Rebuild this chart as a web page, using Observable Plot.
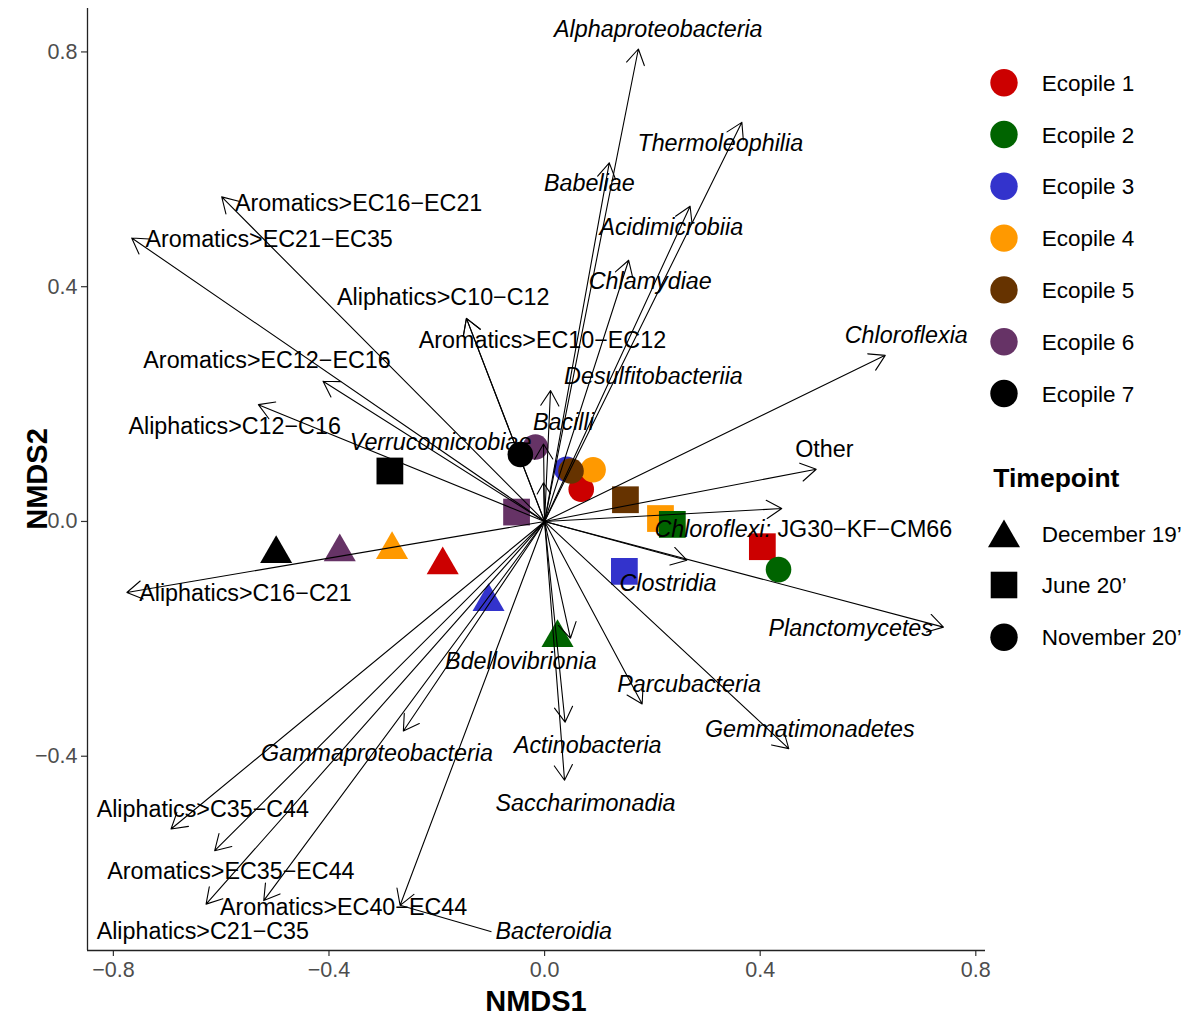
<!DOCTYPE html>
<html>
<head>
<meta charset="utf-8">
<script src="https://cdn.jsdelivr.net/npm/d3@7"></script>
<script src="https://cdn.jsdelivr.net/npm/@observablehq/plot@0.6"></script>
<style>
  body { margin: 0; background: #fff; }
  #wrap { position: relative; width: 1193px; height: 1017px; font-family: "Liberation Sans", Arial, sans-serif; background:#fff; }
  #chart { position: absolute; left: 0; top: 0; }
  #legend { position: absolute; left: 980px; top: 0; }
</style>
</head>
<body>
<div id="wrap">
  <div id="chart"></div>
  <svg id="legend" width="213" height="700"></svg>
</div>
<script>
// ---------------- DATA ----------------
const ecopiles = ["Ecopile 1", "Ecopile 2", "Ecopile 3", "Ecopile 4", "Ecopile 5", "Ecopile 6", "Ecopile 7"];
const ecopileColors = ["#CC0000", "#006400", "#3333CC", "#FF9900", "#663300", "#663366", "#000000"];
const timepoints = ["December 19’", "June 20’", "November 20’"];
const timepointSymbols = ["triangle", "square", "circle"];

// samples (site scores)
const sampleEcopile = [
  "Ecopile 1", "Ecopile 2", "Ecopile 3", "Ecopile 4", "Ecopile 6", "Ecopile 7",
  "Ecopile 1", "Ecopile 3", "Ecopile 4", "Ecopile 2", "Ecopile 5", "Ecopile 6", "Ecopile 7",
  "Ecopile 1", "Ecopile 2", "Ecopile 3", "Ecopile 4", "Ecopile 5", "Ecopile 6", "Ecopile 7"
];
const sampleTimepoint = [
  "December 19’", "December 19’", "December 19’", "December 19’", "December 19’", "December 19’",
  "June 20’", "June 20’", "June 20’", "June 20’", "June 20’", "June 20’", "June 20’",
  "November 20’", "November 20’", "November 20’", "November 20’", "November 20’", "November 20’", "November 20’"
];
const sampleNMDS1 = [
  -0.189, 0.024, -0.104, -0.283, -0.380, -0.498,
  0.404, 0.148, 0.215, 0.237, 0.150, -0.052, -0.287,
  0.068, 0.434, 0.041, 0.090, 0.049, -0.017, -0.045
];
const sampleNMDS2 = [
  -0.074, -0.198, -0.137, -0.048, -0.052, -0.055,
  -0.043, -0.085, 0.005, -0.005, 0.037, 0.016, 0.086,
  0.055, -0.082, 0.089, 0.088, 0.086, 0.127, 0.114
];

// fitted vectors (arrow tips) and their label positions
const vectorNames = [
  "Alphaproteobacteria", "Thermoleophilia", "Babeliae", "Acidimicrobiia", "Chlamydiae",
  "Desulfitobacteriia", "Bacilli", "Verrucomicrobiae", "Chloroflexia", "Other",
  "Chloroflexi: JG30−KF−CM66", "Clostridia", "Planctomycetes", "Bdellovibrionia", "Parcubacteria",
  "Gemmatimonadetes", "Actinobacteria", "Saccharimonadia", "Gammaproteobacteria", "Bacteroidia",
  "Aliphatics>C10−C12", "Aromatics>EC10−EC12", "Aromatics>EC16−EC21", "Aromatics>EC21−EC35", "Aromatics>EC12−EC16",
  "Aliphatics>C12−C16", "Aliphatics>C16−C21", "Aliphatics>C35−C44", "Aromatics>EC35−EC44", "Aliphatics>C21−C35",
  "Aromatics>EC40−EC44"
];
const vectorNMDS1 = [
  0.174, 0.366, 0.120, 0.270, 0.156,
  0.011, -0.002, -0.002, 0.632, 0.504,
  0.440, 0.264, 0.740, 0.048, 0.181,
  0.453, 0.038, 0.037, -0.262, -0.268,
  -0.145, -0.145, -0.599, -0.766, -0.411,
  -0.531, -0.775, -0.693, -0.612, -0.628,
  -0.521
];
const vectorNMDS2 = [
  0.805, 0.680, 0.611, 0.537, 0.445,
  0.223, 0.132, 0.066, 0.283, 0.089,
  0.022, -0.066, -0.180, -0.199, -0.311,
  -0.387, -0.342, -0.441, -0.357, -0.654,
  0.346, 0.346, 0.553, 0.483, 0.239,
  0.199, -0.121, -0.524, -0.561, -0.652,
  -0.646
];
const labelNMDS1 = [
  0.211, 0.326, 0.083, 0.235, 0.196,
  0.202, 0.035, -0.193, 0.671, 0.519,
  0.480, 0.229, 0.568, -0.044, 0.268,
  0.492, 0.080, 0.076, -0.311, 0.017,
  -0.188, -0.004, -0.345, -0.511, -0.515,
  -0.575, -0.555, -0.634, -0.582, -0.634,
  -0.373
];
const labelNMDS2 = [
  0.839, 0.644, 0.576, 0.501, 0.409,
  0.247, 0.169, 0.135, 0.317, 0.123,
  -0.014, -0.106, -0.183, -0.239, -0.278,
  -0.355, -0.381, -0.481, -0.396, -0.699,
  0.381, 0.309, 0.541, 0.481, 0.274,
  0.162, -0.122, -0.490, -0.596, -0.699,
  -0.657
];
// "italic" = taxon, "normal" = hydrocarbon fraction / other, "mixed" = italic phylum + normal clade
const labelStyle = [
  "italic", "italic", "italic", "italic", "italic",
  "italic", "italic", "italic", "italic", "normal",
  "mixed", "italic", "italic", "italic", "italic",
  "italic", "italic", "italic", "italic", "italic",
  "normal", "normal", "normal", "normal", "normal",
  "normal", "normal", "normal", "normal", "normal",
  "normal"
];
const repelledLabels = ["Bacteroidia"]; // label moved away, joined by a segment

const xTicks = [-0.8, -0.4, 0.0, 0.4, 0.8];
const yTicks = [-0.4, 0.0, 0.4, 0.8];

// ---------------- BUILD ----------------
const FONT = '"Liberation Sans", Arial, sans-serif';
const W = 990, H = 1017;
const mL = 87, mR = 5, mT = 8, mB = 67;
const xDomain = [-0.848, 0.818];
const yDomain = [-0.731, 0.874];
const labelSize = 23.3;

const points = sampleEcopile.map((e, i) => ({ecopile: e, timepoint: sampleTimepoint[i], x: sampleNMDS1[i], y: sampleNMDS2[i]}));
const vecs = vectorNames.map((n, i) => ({name: n, x: vectorNMDS1[i], y: vectorNMDS2[i], lx: labelNMDS1[i], ly: labelNMDS2[i], style: labelStyle[i], repel: repelledLabels.includes(n)}));

// measure text width to place repelled labels' segment end
const ctx = document.createElement("canvas").getContext("2d");
ctx.font = `italic ${labelSize}px ${FONT}`;
const pxPerX = (W - mL - mR) / (xDomain[1] - xDomain[0]);
vecs.forEach(v => {
  if (v.repel) {
    const wpx = ctx.measureText(v.name).width;
    v.leftX = v.lx - (wpx / 2) / pxPerX;
    v.segX = v.leftX - 4 / pxPerX;
  }
});

const fmt = d3.format(".1f");
const symR = {"triangle": 11.9, "square": 15.1, "circle": 12.8};

const dotMarks = timepoints.map((t, i) => Plot.dot(points.filter(p => p.timepoint === t), {
  x: "x", y: "y", fill: "ecopile", symbol: timepointSymbols[i], r: symR[timepointSymbols[i]], stroke: "none"
}));

const chart = Plot.plot({
  width: W, height: H,
  marginLeft: mL, marginRight: mR, marginTop: mT, marginBottom: mB,
  style: {fontFamily: FONT, background: "white", overflow: "visible"},
  x: {domain: xDomain},
  y: {domain: yDomain},
  color: {domain: ecopiles, range: ecopileColors},
  marks: [
    Plot.axisX({ticks: xTicks, tickFormat: fmt, tickSize: 6, tickPadding: 5, fontSize: 21.5, label: null}),
    Plot.axisY({ticks: yTicks, tickFormat: fmt, tickSize: 6, tickPadding: 4, fontSize: 21.5, label: null}),
    Plot.ruleY([yDomain[0]], {stroke: "#222", strokeWidth: 1.3}),
    Plot.ruleX([xDomain[0]], {stroke: "#222", strokeWidth: 1.3}),
    ...dotMarks,
    Plot.arrow(vecs, {x1: () => 0, y1: () => 0, x2: "x", y2: "y", stroke: "black", strokeWidth: 1.1, headLength: 24, headAngle: 62}),
    Plot.link(vecs.filter(v => v.repel), {x1: "x", y1: "y", x2: "segX", y2: "ly", stroke: "black", strokeWidth: 1.1}),
    Plot.text(vecs.filter(v => v.style === "italic" && !v.repel), {x: "lx", y: "ly", text: "name", fontSize: labelSize, fontStyle: "italic", fill: "black"}),
    Plot.text(vecs.filter(v => v.style === "italic" && v.repel), {x: "leftX", y: "ly", text: "name", fontSize: labelSize, fontStyle: "italic", fill: "black", textAnchor: "start"}),
    Plot.text(vecs.filter(v => v.style !== "italic"), {x: "lx", y: "ly", text: "name", fontSize: labelSize, fill: "black"})
  ]
});
document.getElementById("chart").appendChild(chart);

const svg = d3.select(chart);
svg.selectAll('[aria-label="x-axis tick label"], [aria-label="y-axis tick label"]').attr("fill", "#4D4D4D");
svg.selectAll('[aria-label="x-axis tick"], [aria-label="y-axis tick"]').attr("stroke", "#333").attr("stroke-width", 1.2);

// mixed-style label
svg.selectAll("text").filter(function () { return this.textContent === "Chloroflexi: JG30−KF−CM66"; }).each(function () {
  const t = d3.select(this);
  t.text(null);
  t.append("tspan").attr("font-style", "italic").text("Chloroflexi:");
  t.append("tspan").text(" JG30−KF−CM66");
});

// axis titles
svg.append("text").attr("x", (mL + W - mR) / 2).attr("y", 1011).attr("text-anchor", "middle")
  .attr("font-weight", "bold").attr("font-size", 29).attr("font-family", FONT).attr("fill", "black").text("NMDS1");
svg.append("text").attr("transform", `translate(47,${(mT + H - mB) / 2}) rotate(-90)`).attr("text-anchor", "middle")
  .attr("font-weight", "bold").attr("font-size", 29).attr("font-family", FONT).attr("fill", "black").text("NMDS2");

// ---------------- LEGEND ----------------
const lg = d3.select("#legend").attr("font-family", FONT);
const legX = 24, txtX = 61.7;
ecopiles.forEach((e, i) => {
  const cy = 82.7 + i * 51.8;
  lg.append("circle").attr("cx", legX).attr("cy", cy).attr("r", 13.7).attr("fill", ecopileColors[i]);
  lg.append("text").attr("x", txtX).attr("y", cy).attr("dy", "0.36em").attr("font-size", 22.5).attr("fill", "black").text(e);
});
lg.append("text").attr("x", 13.3).attr("y", 486.7).attr("font-size", 26.5).attr("font-weight", "bold").attr("fill", "black").text("Timepoint");
const tpY = [538, 585, 637.3];
const legSym = {triangle: d3.symbolTriangle, square: d3.symbolSquare, circle: d3.symbolCircle};
timepoints.forEach((t, i) => {
  const s = timepointSymbols[i];
  const r = {triangle: 11.9, square: 15.0, circle: 13.7}[s];
  lg.append("path").attr("transform", `translate(${legX},${tpY[i]})`)
    .attr("d", d3.symbol(legSym[s], Math.PI * r * r)()).attr("fill", "black");
  lg.append("text").attr("x", txtX).attr("y", tpY[i] - (s === "triangle" ? 4.5 : 0)).attr("dy", "0.36em").attr("font-size", 22.5).attr("fill", "black").text(t);
});
</script>
</body>
</html>
